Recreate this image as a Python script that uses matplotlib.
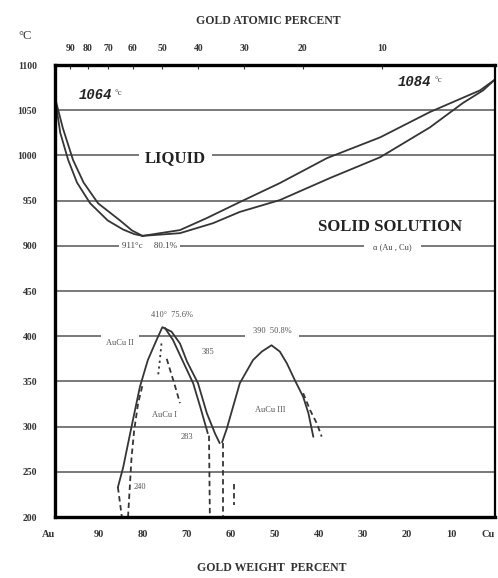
import numpy as np
import matplotlib
matplotlib.use("Agg")
import matplotlib.pyplot as plt

plt.rcParams['font.family'] = ['Liberation Serif', 'DejaVu Serif']

# liquidus / solidus lens (gold wt%, deg C)
liq_left_wt = [100, 98.2, 95.9, 93.5, 90.2, 85.2, 82.5, 80.1]
liq_left_t = [1064, 1030, 995, 970, 947, 928, 917, 911]
sol_left_wt = [100, 98.8, 97.0, 95.0, 92.0, 88.0, 84.5, 82.0, 80.1]
sol_left_t = [1064, 1025, 995, 970, 947, 928, 918, 913, 911]
liq_right_wt = [80.1, 71.6, 65.5, 58.0, 48.9, 38.2, 26.1, 14.8, 3.4, 0]
liq_right_t = [911, 917.4, 930.7, 948.4, 969.4, 997, 1020, 1048, 1072, 1084]
sol_right_wt = [80.1, 71.6, 64.1, 58.0, 48.9, 37.5, 26.1, 14.8, 7.3, 2.7, 0]
sol_right_t = [911, 914, 925, 937.5, 950.6, 975, 998, 1031, 1058, 1072, 1084]

# AuCu I / II ordering dome
dome1_wt = [85.7, 84.5, 83.7, 82.3, 80.7, 78.9, 76.9, 75.6, 73.5, 71.6, 70.0, 67.5, 65.5, 63.6, 62.6]
dome1_t = [233, 255, 274, 307, 344, 373.6, 396, 410, 405, 392, 372, 348, 315, 292, 282]
dome1_in_wt = [75.0, 73.2, 71.1, 68.6, 67.0, 65.3]
dome1_in_t = [409, 396, 374, 348, 322, 293]
auc1_left_wt = [83.4, 83.0, 82.6, 82.0, 81.1, 80.0]
auc1_left_t = [200, 233, 266, 296, 326, 348]
auc1_right_wt = [74.6, 73.8, 72.9, 71.6]
auc1_right_t = [375, 362, 348, 326]
dot_wt = [75.8, 76.2, 76.6]
dot_t = [392, 372, 355]
foot_wt = [85.7, 84.8]
foot_t = [233, 200]
drop1_wt = [65.0, 64.8]
drop1_t = [290, 200]
drop2_wt = [61.8, 61.8]
drop2_t = [282, 200]
drop3_wt = [59.3, 59.3]
drop3_t = [236, 213]

# AuCu III dome
dome3_wt = [62.0, 61.0, 60.2, 58.0, 55.0, 53.0, 50.8, 48.9, 47.3, 45.5, 43.6, 42.4, 41.3]
dome3_t = [283, 297, 310.6, 348, 373.6, 383, 390, 383, 370, 351.5, 333, 314.7, 289]
dome3_dash_wt = [43.6, 42.0, 40.5, 39.4]
dome3_dash_t = [337, 318, 303.6, 289]

y_ticks = [200, 250, 300, 350, 400, 450, 900, 950, 1000, 1050, 1100]
x_ticks = [100, 90, 80, 70, 60, 50, 40, 30, 20, 10, 0]
x_labels = ['Au', '90', '80', '70', '60', '50', '40', '30', '20', '10', 'Cu']
at_ticks = [90, 80, 70, 60, 50, 40, 30, 20, 10]

AU, CU = 196.97, 63.55


def t_fwd(t):
    t = np.asarray(t, dtype=float)
    return np.where(t <= 450, (t - 200) / 50,
                    np.where(t >= 900, (t - 900) / 50 + 6, 5 + (t - 450) / 450))


def t_inv(p):
    p = np.asarray(p, dtype=float)
    return np.where(p <= 5, 200 + 50 * p,
                    np.where(p >= 6, 900 + 50 * (p - 6), 450 + (p - 5) * 450))


def wt2at(w):
    w = np.clip(np.asarray(w, dtype=float), 1e-9, 100 - 1e-9)
    a = w / AU
    return 100 * a / (a + (100 - w) / CU)


def at2wt(a):
    a = np.clip(np.asarray(a, dtype=float), 1e-9, 100 - 1e-9)
    m = a * AU
    return 100 * m / (m + (100 - a) * CU)


fig = plt.figure(figsize=(4.98, 5.78), dpi=100)
ax = fig.add_axes([0.1104, 0.1055, 0.8836, 0.782])
ax.set_yscale('function', functions=(t_fwd, t_inv))
ax.set_xlim(100, 0)
ax.set_ylim(200, 1100)

ax.set_yticks(y_ticks)
ax.set_yticklabels([str(v) for v in y_ticks])
ax.yaxis.set_minor_locator(matplotlib.ticker.NullLocator())
ax.set_xticks(x_ticks)
ax.set_xticklabels(x_labels)
ax.tick_params(axis='y', length=0, pad=13, labelsize=7)
ax.tick_params(axis='x', length=0, pad=9, labelsize=7.5)
for lab in ax.get_xticklabels() + ax.get_yticklabels():
    lab.set_fontweight('bold')
    lab.set_color('#333333')
xl = ax.get_xticklabels()
xl[0].set_horizontalalignment('right')
xl[-1].set_horizontalalignment('right')
ax.grid(axis='y', color='#555555', linewidth=1.1)
ax.grid(axis='x', visible=False)

for side in ['left', 'top', 'bottom']:
    ax.spines[side].set_linewidth(2.4)
ax.spines['right'].set_linewidth(1.6)

sec = ax.secondary_xaxis('top', functions=(wt2at, at2wt))
sec.set_xticks(at_ticks)
sec.set_xticklabels([str(v) for v in at_ticks])
sec.tick_params(direction='in', length=3, width=0.8, pad=9, labelsize=7, colors='#333333')
for lab in sec.get_xticklabels():
    lab.set_fontweight('bold')

lc = '#353535'
lw = 1.3
ax.plot(liq_left_wt, liq_left_t, color=lc, lw=lw)
ax.plot(sol_left_wt, sol_left_t, color=lc, lw=lw)
ax.plot(liq_right_wt, liq_right_t, color=lc, lw=lw)
ax.plot(sol_right_wt, sol_right_t, color=lc, lw=lw)

ax.plot(dome1_wt, dome1_t, color=lc, lw=lw)
ax.plot(dome1_in_wt, dome1_in_t, color=lc, lw=lw)
ax.plot(dome3_wt, dome3_t, color=lc, lw=lw)

dash = dict(color=lc, lw=1.3, linestyle=(0, (3, 2)))
ax.plot(auc1_left_wt, auc1_left_t, **dash)
ax.plot(auc1_right_wt, auc1_right_t, **dash)
ax.plot(foot_wt, foot_t, **dash)
ax.plot(drop1_wt, drop1_t, **dash)
ax.plot(drop2_wt, drop2_t, **dash)
ax.plot(drop3_wt, drop3_t, **dash)
ax.plot(dome3_dash_wt, dome3_dash_t, **dash)
ax.plot(dot_wt, dot_t, color=lc, lw=1.3, linestyle=(0, (1.2, 2)))

white = dict(facecolor='white', edgecolor='none', boxstyle='square,pad=0.35')

ax.text(72.7, 997, 'LIQUID', fontsize=12, fontweight='bold', ha='center', va='center',
        color='#222222', bbox=white)
ax.text(23.9, 921, 'SOLID SOLUTION', fontsize=12, fontweight='bold', ha='center',
        va='center', color='#222222')
ax.text(23.4, 888, 'α (Au , Cu)', fontsize=6, ha='center', va='center', color='#444444',
        bbox=dict(facecolor='white', edgecolor='none', boxstyle='square,pad=1.1'))
ax.text(78.5, 899, '911°c     80.1%', fontsize=6.5, ha='center', va='center',
        color='#444444', bbox=white)

ax.text(90.9, 1067, '1064', fontsize=10, fontweight='bold', fontstyle='italic',
        family='Liberation Mono', ha='center', va='center', color='#222222')
ax.text(86.4, 1069, '°c', fontsize=6.5, ha='left', va='center', color='#444444')
ax.text(18.2, 1081, '1084', fontsize=10, fontweight='bold', fontstyle='italic',
        family='Liberation Mono', ha='center', va='center', color='#222222')
ax.text(13.8, 1083, '°c', fontsize=6.5, ha='left', va='center', color='#444444')

small = dict(fontsize=6, ha='center', va='center', color='#555555')
ax.text(73.4, 423, '410°  75.6%', **small)
ax.text(85.2, 392, 'AuCu II', bbox=dict(facecolor='white', edgecolor='none',
                                         boxstyle='square,pad=0.6'), **small)
ax.text(65.2, 382, '385', **small)
ax.text(50.7, 406, '390  50.8%', bbox=dict(facecolor='white', edgecolor='none',
                                            boxstyle='square,pad=0.9'), **small)
ax.text(75.0, 313, 'AuCu I', **small)
ax.text(70.0, 289, '283', **small)
ax.text(51.1, 318, 'AuCu III', **small)
ax.text(80.8, 233, '240', **small)

fig.text(268 / 498, 1 - 21 / 578, 'GOLD ATOMIC PERCENT', fontsize=8.5, fontweight='bold',
         ha='center', va='center', color='#333333')
fig.text(272 / 498, 1 - 568 / 578, 'GOLD WEIGHT  PERCENT', fontsize=8.5, fontweight='bold',
         ha='center', va='center', color='#333333')
fig.text(25 / 498, 1 - 36 / 578, '°C', fontsize=9, ha='center', va='center', color='#333333')

fig.savefig('out.png', dpi=100)
